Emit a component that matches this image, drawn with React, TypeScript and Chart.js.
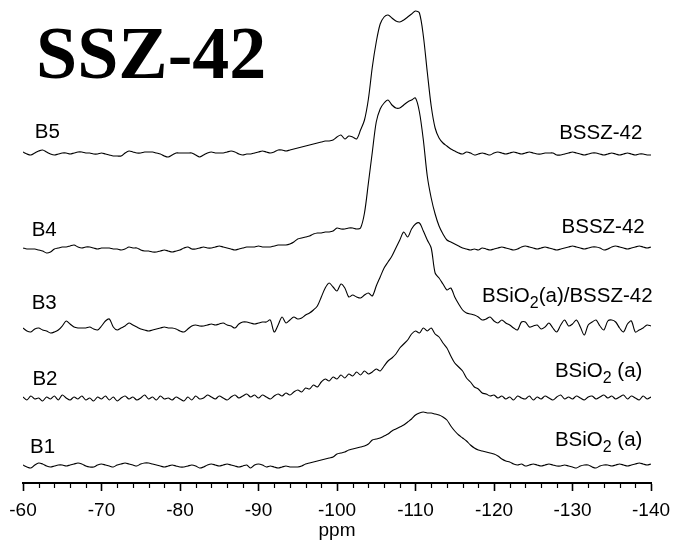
import React, { useEffect, useRef } from 'react';
import { Chart, registerables } from 'chart.js';

Chart.register(...registerables);

// Chemical shift grid (ppm), 0.5 ppm sampling from -60 to -140
const ppm: number[] = Array.from({ length: 161 }, (_, i) => -(60 + i * 0.5));

// Vertical stacking offsets of the spectra (intensity units)
const seriesNames = ['B1', 'B2', 'B3', 'B4', 'B5'];
const offsets = [18, 85, 155, 235, 329];

// Intensities (relative to each spectrum's baseline)
const b1 = [
  0, -2, -3, 0, 2, 1, -1, -2, -1, 0,
  0, -1, 0, 1, 2, 1, -1, -2, -2, 0,
  1, 0, -1, -2, 0, 1, 2, 1, 0, -1,
  1, 2, 2, 1, 0, -1, -2, -1, 0, -1,
  -2, -2, -1, 0, -1, -3, -2, 0, 1, 0,
  -1, 0, 1, 0, -1, -2, -1, 0, -3, 0,
  1, 0, -2, -1, -2, -3, -2, -1, -2, -2,
  -2, -1, 1, 2, 3, 4, 5, 6, 7, 8,
  11, 12, 13, 15, 16, 17, 18, 19, 21, 25,
  26, 27, 29, 31, 34, 36, 38, 40, 43, 46,
  50, 52, 53, 52, 52, 51, 50, 48, 45, 39,
  34, 30, 27, 24, 20, 17, 15, 14, 13, 12,
  11, 9, 6, 4, 3, 1, 0, 1, -1, 0,
  1, 0, -1, 0, 1, 0, -1, -1, 0, -1,
  -2, -3, -1, 0, 0, -2, -3, -1, 0, 0,
  -1, 0, 1, 0, -1, 0, 1, 2, 1, 0,
  1,
];

const b2 = [
  1, -2, 2, -1, 0, -3, 1, -1, 2, -2,
  3, 0, -2, 1, -1, 2, -2, 0, -3, 1,
  -1, 2, -2, 1, -3, 0, 2, -1, 1, -2,
  0, 3, -1, 1, -2, 2, -1, 0, -2, 1,
  -1, -3, 1, -2, 2, -1, 0, 3, 1, -1,
  2, 0, -2, 1, 3, 0, 2, 4, 1, 3,
  0, 3, 1, -1, 2, 4, 2, 5, 3, 6,
  8, 6, 10, 9, 13, 11, 16, 19, 17, 21,
  19, 23, 20, 24, 22, 26, 23, 27, 24, 26,
  29, 27, 32, 37, 40, 44, 50, 54, 58, 64,
  67, 65, 70, 67, 70, 64, 61, 55, 50, 42,
  35, 31, 27, 20, 16, 11, 9, 5, 4, 2,
  3, 0, 2, -1, 1, -2, 2, 0, -1, 2,
  -2, 1, -1, 2, 0, -2, 1, 3, -1, 1,
  -1, 2, 0, -2, 1, 2, -1, 1, 3, 0,
  2, -1, 1, 3, -1, 2, 0, -2, 2, -1,
  1,
];

const b3 = [
  0, -3, -4, -1, 0, -2, -3, -5, -4, -2,
  2, 7, 4, 1, 0, 0, 0, 1, -1, -2,
  2, 7, 9, 1, -2, 0, 2, 5, 3, 1,
  -1, -2, -3, -2, -1, 0, 1, 0, 0, -1,
  -3, -4, -1, 2, 3, 2, 2, 3, 4, 3,
  4, 5, 3, 2, 0, 4, 6, 6, 5, 4,
  5, 6, 6, 8, -4, 3, 11, 5, 8, 11,
  9, 10, 13, 15, 18, 22, 31, 40, 45, 41,
  37, 44, 40, 31, 33, 31, 30, 33, 35, 32,
  42, 51, 60, 66, 72, 80, 88, 96, 91, 99,
  104, 105, 97, 88, 80, 55, 50, 44, 38, 40,
  31, 24, 18, 15, 14, 13, 11, 8, 9, 11,
  7, 5, 8, 5, 3, 0, -2, 6, 6, 1,
  2, 3, -1, 1, 5, 0, -4, 3, 8, 2,
  4, 8, 1, -7, 3, 6, 8, 2, -2, 7,
  8, 6, 0, -4, 4, 7, -4, -2, 0, 3,
  2,
];

const b4 = [
  0, -1, -1, -1, -2, -3, -5, -4, -1, 0,
  1, 1, 2, 3, 1, 0, 1, 1, 0, -1,
  0, 0, 0, -1, -1, -2, -1, 1, 0, 0,
  -2, -3, -3, -4, -4, -3, -2, -3, -4, -3,
  -2, 0, 1, -1, -1, 0, 1, 0, 0, 1,
  2, 1, 0, -1, -2, -1, 0, 1, 1, 1,
  2, 1, 1, 1, 2, 3, 3, 3, 4, 6,
  9, 10, 11, 12, 14, 15, 15, 16, 16, 17,
  20, 19, 19, 20, 20, 19, 20, 35, 65, 96,
  126, 139, 145, 148, 143, 140, 140, 143, 146, 148,
  150, 136, 108, 72, 50, 34, 22, 14, 8, 6,
  4, 2, 0, -1, -2, -1, -2, 0, -1, -2,
  -1, 0, 1, 0, -1, -2, -1, 1, 2, 1,
  0, -1, 0, 1, 0, -1, -2, -1, 0, 1,
  2, 1, 0, -1, 0, 1, 1, 0, -2, -1,
  1, 2, 1, 0, -1, 0, 1, 2, 1, 0,
  1,
];

const b5 = [
  2, 0, -1, 1, 3, 4, 2, 0, -1, 0,
  1, 1, 0, 1, 2, 2, 1, 1, 0, 0,
  1, 0, -1, -2, -2, -2, 1, 3, 2, 1,
  1, 2, 2, 2, 1, 0, -2, -3, -1, 1,
  1, 1, 1, 1, -1, -3, -1, 1, 2, 1,
  1, 1, 2, 3, 2, 0, -1, 0, 0, 1,
  2, 3, 2, 1, 2, 4, 4, 3, 4, 5,
  6, 7, 8, 9, 10, 11, 12, 13, 13, 14,
  17, 19, 15, 18, 17, 15, 24, 34, 55, 87,
  112, 130, 137, 139, 136, 133, 132, 134, 137, 140,
  143, 141, 118, 82, 48, 26, 16, 11, 8, 5,
  3, 1, 0, 2, 1, -1, 0, 1, 0, -1,
  1, 2, 1, 0, 1, 2, 1, 0, 1, 2,
  1, 0, 0, 1, 1, 1, -1, -1, 0, 1,
  2, 1, 0, -1, 0, 1, 1, 0, -1, 0,
  1, 0, -1, 0, 1, 0, -1, 0, 0, -1,
  -1,
];

const seriesValues = [b1, b2, b3, b4, b5];

// Minor tick positions (every 2 ppm, excluding the labelled multiples of 10)
const minorTicks: number[] = [];
for (let v = -62; v > -140; v -= 2) if (v % 10 !== 0) minorTicks.push(v);

const chartTitle = 'SSZ-42';
const axisTitle = 'ppm';

// Text labels: parts with "_" prefix are subscripts
type Label = { parts: string[]; x: number; y: number; align: 'left' | 'right' };
const leftLabels: Label[] = [
  { parts: ['B5'], x: -61.5, y: 345, align: 'left' },
  { parts: ['B4'], x: -61.1, y: 247, align: 'left' },
  { parts: ['B3'], x: -61.1, y: 174, align: 'left' },
  { parts: ['B2'], x: -61.2, y: 98, align: 'left' },
  { parts: ['B1'], x: -60.9, y: 30, align: 'left' },
];
const rightLabels: Label[] = [
  { parts: ['BSSZ-42'], x: -138.9, y: 344, align: 'right' },
  { parts: ['BSSZ-42'], x: -139.2, y: 250, align: 'right' },
  { parts: ['BSiO', '_2', '(a)/BSSZ-42'], x: -140.2, y: 181, align: 'right' },
  { parts: ['BSiO', '_2', ' (a)'], x: -138.9, y: 106, align: 'right' },
  { parts: ['BSiO', '_2', ' (a)'], x: -138.9, y: 37, align: 'right' },
];

const SANS = '"Liberation Sans", Arial, Helvetica, sans-serif';
const SERIF = '"Liberation Serif", "Times New Roman", Times, serif';
const LABEL_SIZE = 20.5;

const annotate = {
  id: 'annotate',
  afterDraw(chart: any) {
    const { ctx } = chart;
    const xs = chart.scales.x;
    const ys = chart.scales.y;
    ctx.save();
    // minor ticks
    ctx.strokeStyle = '#000';
    ctx.lineWidth = 1.2;
    minorTicks.forEach((v) => {
      const px = Math.round(xs.getPixelForValue(v)) + 0.5;
      ctx.beginPath();
      ctx.moveTo(px, xs.top);
      ctx.lineTo(px, xs.top + 5);
      ctx.stroke();
    });
    // big title
    ctx.fillStyle = '#000';
    ctx.textAlign = 'left';
    ctx.textBaseline = 'alphabetic';
    ctx.font = `bold 74px ${SERIF}`;
    ctx.fillText(chartTitle, 36, 78);

    const normalFont = `${LABEL_SIZE}px ${SANS}`;
    const subFont = `${LABEL_SIZE * 0.78}px ${SANS}`;
    const drawLabel = (lab: Label) => {
      const segs = lab.parts.map((p) => {
        const sub = p.startsWith('_');
        const text = sub ? p.slice(1) : p;
        ctx.font = sub ? subFont : normalFont;
        return { text, sub, w: ctx.measureText(text).width };
      });
      const total = segs.reduce((a, s) => a + s.w, 0);
      let x = xs.getPixelForValue(lab.x);
      const y = ys.getPixelForValue(lab.y);
      if (lab.align === 'right') x -= total;
      segs.forEach((s) => {
        ctx.font = s.sub ? subFont : normalFont;
        ctx.fillText(s.text, x, s.sub ? y + 6 : y);
        x += s.w;
      });
    };
    leftLabels.forEach(drawLabel);
    rightLabels.forEach(drawLabel);
    ctx.restore();
  },
};

export default function App() {
  const ref = useRef<HTMLCanvasElement>(null);
  useEffect(() => {
    if (!ref.current) return;
    const datasets = seriesValues.map((vals, k) => ({
      label: seriesNames[k],
      data: ppm.map((p, i) => ({ x: p, y: offsets[k] + vals[i] })),
      borderColor: '#000',
      borderWidth: 1.1,
      pointRadius: 0,
      fill: false,
      tension: 0.3,
    }));
    const chart = new Chart(ref.current, {
      type: 'line',
      data: { datasets },
      options: {
        animation: false,
        responsive: false,
        devicePixelRatio: 1,
        layout: { padding: { left: 23, right: 22, top: 8, bottom: 0 } },
        plugins: { legend: { display: false }, tooltip: { enabled: false } },
        scales: {
          x: {
            type: 'linear',
            position: 'bottom',
            min: -140,
            max: -60,
            reverse: true,
            afterFit: (s: any) => {
              s.height = 61;
              s.paddingLeft = 0;
              s.paddingRight = 0;
            },
            ticks: {
              stepSize: 10,
              color: '#000',
              autoSkip: false,
              maxRotation: 0,
              padding: 8,
              font: { family: SANS, size: 19 },
            },
            grid: {
              display: true,
              drawOnChartArea: false,
              drawTicks: true,
              tickLength: 8,
              tickWidth: 1.6,
              tickColor: '#000',
            },
            border: { display: true, color: '#000', width: 2 },
            title: {
              display: true,
              text: axisTitle,
              color: '#000',
              font: { family: SANS, size: 19 },
              padding: { top: 0, bottom: 2 },
            },
          },
          y: { display: false, min: 0, max: 475 },
        },
      } as any,
      plugins: [annotate],
    });
    return () => chart.destroy();
  }, []);
  return (
    <div style={{ position: 'absolute', left: 0, top: 0, width: 673, height: 544 }}>
      <canvas ref={ref} width={673} height={544} style={{ display: 'block' }} />
    </div>
  );
}
